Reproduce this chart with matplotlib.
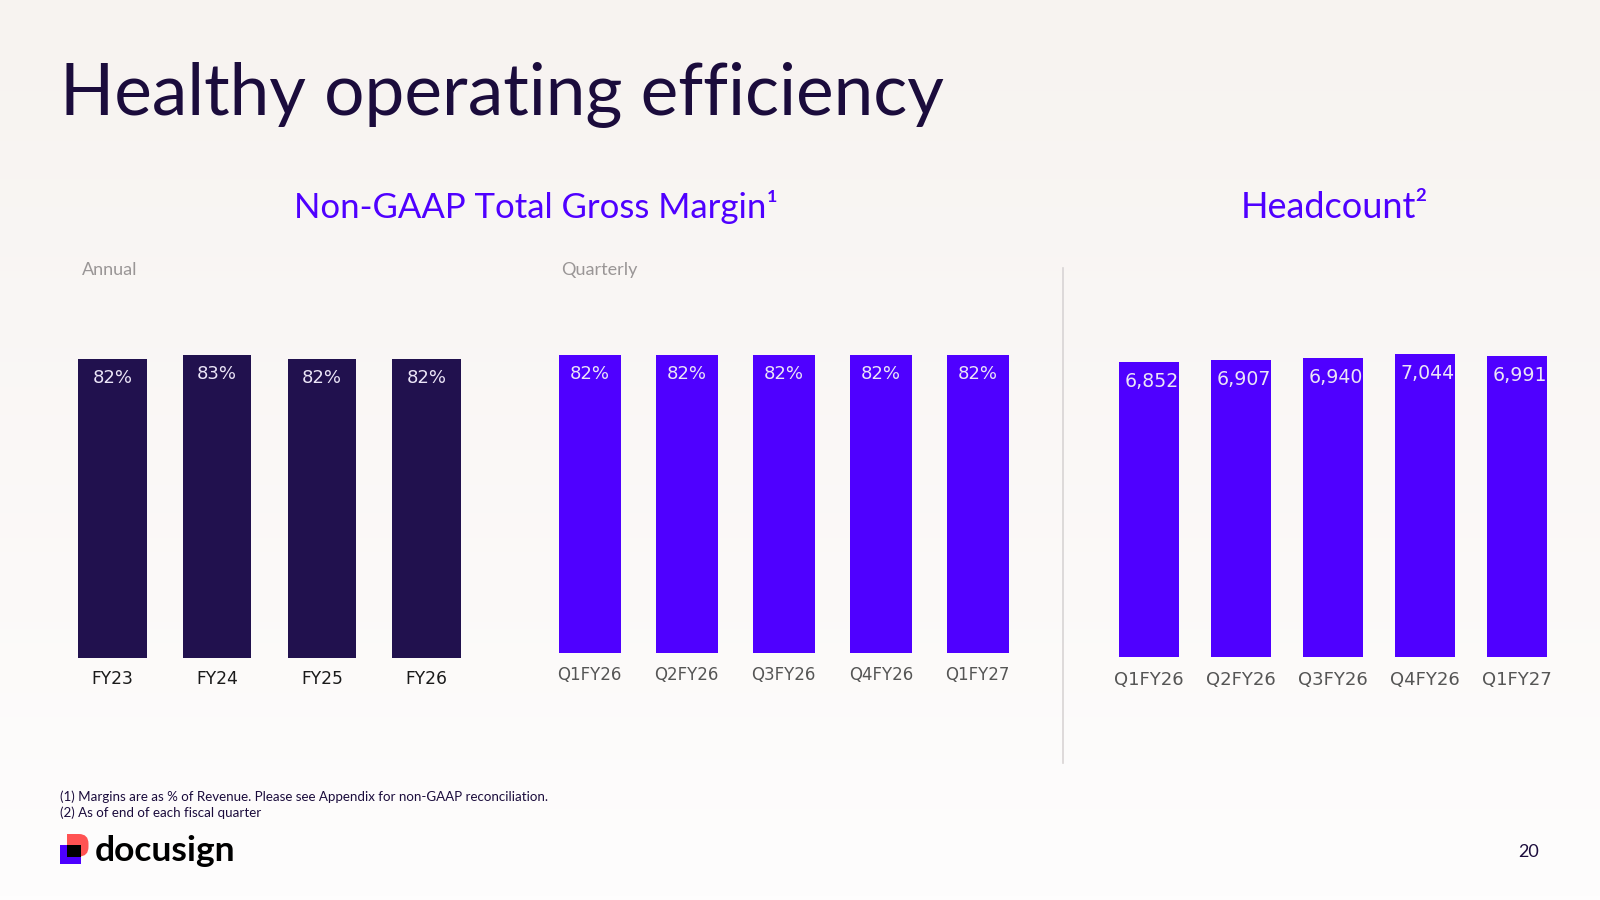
import numpy as np
import matplotlib
matplotlib.use("Agg")
import matplotlib.pyplot as plt
from matplotlib.patches import Rectangle, FancyBboxPatch

# ---- data ----
annual_labels = ["FY23", "FY24", "FY25", "FY26"]
annual_margin = [82, 83, 82, 82]

quarter_labels = ["Q1FY26", "Q2FY26", "Q3FY26", "Q4FY26", "Q1FY27"]
quarter_margin = [82, 82, 82, 82, 82]

headcount_labels = ["Q1FY26", "Q2FY26", "Q3FY26", "Q4FY26", "Q1FY27"]
headcount = [6852, 6907, 6940, 7044, 6991]

DARK = "#21114e"
PURPLE = "#4f00ff"
INK = "#1b0c3c"
W, H = 1600, 900

fig = plt.figure(figsize=(16, 9), dpi=100)

# background gradient (warm off-white to white)
bg = fig.add_axes([0, 0, 1, 1], zorder=-10)
top = np.array([247, 243, 240]) / 255
bot = np.array([254, 253, 253]) / 255
t = np.linspace(0, 1, 256)[:, None]
grad = top * (1 - t) + bot * t
bg.imshow(grad[:, None, :].repeat(2, axis=1), aspect="auto", extent=[0, 1, 0, 1])
bg.set_axis_off()


def px_axes(left, right, top_px, bottom_px):
    return fig.add_axes([left / W, 1 - bottom_px / H, (right - left) / W,
                         (bottom_px - top_px) / H])


def style(ax):
    for s in ax.spines.values():
        s.set_visible(False)
    ax.set_yticks([])
    ax.patch.set_alpha(0)
    ax.tick_params(axis="x", length=0)


def bars(ax, labels, values, color, width, fmt, tick_color, tick_size, tick_pad,
         lab_off, lab_size=13, lab_dx=0):
    x = np.arange(len(values))
    ax.bar(x, values, width=width, color=color)
    ax.set_xlim(-0.5, len(values) - 0.5)
    ax.set_xticks(x, labels)
    ax.tick_params(axis="x", pad=tick_pad, labelsize=tick_size, labelcolor=tick_color)
    for xi, v in zip(x, values):
        ax.annotate(fmt(v), (xi, v), xytext=(lab_dx, lab_off), textcoords="offset points",
                    ha="center", va="center", color="#ebe5f7", fontsize=lab_size,
                    family="DejaVu Sans")
    style(ax)


# annual
ax1 = px_axes(60.2, 478.8, 657.5 - 364.6, 657.5)
ax1.set_ylim(0, 100)
bars(ax1, annual_labels, annual_margin, DARK, 0.653, lambda v: f"{v}%",
     "#1a1a1a", 12.3, 9, -14)

# quarterly
ax2 = px_axes(541.3, 1026.3, 653.3 - 363.7, 653.3)
ax2.set_ylim(0, 100)
bars(ax2, quarter_labels, quarter_margin, PURPLE, 0.642, lambda v: f"{v}%",
     "#555555", 12, 9, -13.5)

# headcount
ax3 = px_axes(1102.8, 1562.7, 656.7 - 344, 656.7)
ax3.set_ylim(0, 8000)
bars(ax3, headcount_labels, headcount, PURPLE, 0.652, lambda v: f"{v:,}",
     "#555555", 13, 10.5, -14, lab_size=13.6, lab_dx=2)

# texts
fig.text(60 / W, 1 - 115 / H, "Healthy operating efficiency", family="Lato",
         fontsize=51.2, color=INK, va="baseline", ha="left")
fig.text(536 / W, 1 - 218 / H, "Non-GAAP Total Gross Margin\u00b9", family="Lato",
         fontsize=25, color=PURPLE, va="baseline", ha="center")
fig.text(1334 / W, 1 - 218 / H, "Headcount\u00b2", family="Lato",
         fontsize=26, color=PURPLE, va="baseline", ha="center")
fig.text(82 / W, 1 - 275 / H, "Annual", family="Lato", fontsize=13,
         color="#9a9696", va="baseline")
fig.text(561 / W, 1 - 275 / H, "Quarterly", family="Lato", fontsize=13,
         color="#9a9696", va="baseline")

fig.add_artist(plt.Line2D([1063 / W, 1063 / W], [1 - 268 / H, 1 - 763 / H],
                          color="#d8d4d4", lw=1.2))

fig.text(60 / W, 1 - 801 / H,
         "(1) Margins are as % of Revenue. Please see Appendix for non-GAAP reconciliation.",
         family="Lato", fontsize=9.6, color=INK, va="baseline")
fig.text(60 / W, 1 - 817 / H, "(2) As of end of each fiscal quarter",
         family="Lato", fontsize=9.6, color=INK, va="baseline")
fig.text(1529 / W, 1 - 852 / H, "20", family="Lato", fontsize=13, color=INK,
         ha="center", va="center")

# logo
def fig_rect(x0, y0, x1, y1, color, rounded=False):
    if rounded:
        p = FancyBboxPatch((x0 / W, 1 - y1 / H), (x1 - x0) / W, (y1 - y0) / H,
                           boxstyle="round,pad=0,rounding_size=0.006",
                           transform=fig.transFigure, color=color, lw=0,
                           mutation_aspect=W / H)
    else:
        p = Rectangle((x0 / W, 1 - y1 / H), (x1 - x0) / W, (y1 - y0) / H,
                      transform=fig.transFigure, color=color, lw=0)
    fig.add_artist(p)

fig_rect(67, 834, 88.5, 856.5, "#ff5252", rounded=True)
fig_rect(67, 834, 76, 856.5, "#ff5252")
fig_rect(60, 845, 81, 864, "#4c00ff")
fig_rect(67, 845, 81, 856.5, "#000000")
fig.text(95 / W, 1 - 861 / H, "docusign", family="Lato", weight="bold",
         fontsize=25.5, color="#000000", va="baseline")

fig.savefig("out.png", dpi=100)
